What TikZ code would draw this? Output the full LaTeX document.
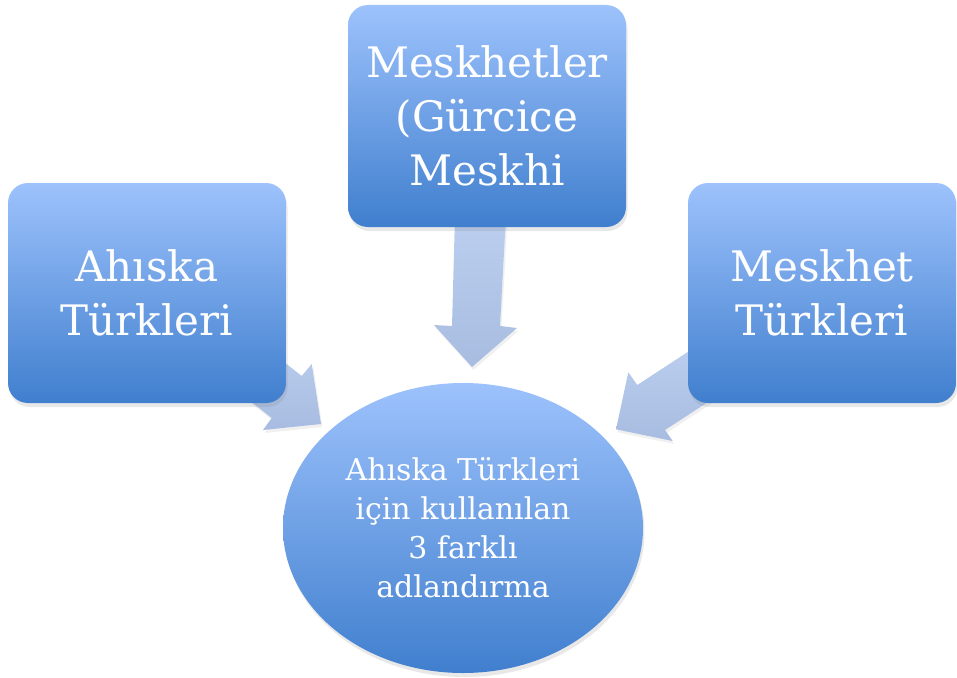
\documentclass[tikz,border=0pt]{standalone}
\usepackage{fontspec}
\setmainfont{DejaVu Serif}
\usetikzlibrary{shadows}
\definecolor{boxtop}{RGB}{157,194,252}
\definecolor{boxbot}{RGB}{64,127,206}
\definecolor{arrtop}{RGB}{188,207,240}
\definecolor{arrbot}{RGB}{167,188,224}
\tikzset{
  blockbox/.style={rounded corners=20pt, top color=boxtop, bottom color=boxbot,
    draw=none, text=white, align=center, inner sep=0pt,
    drop shadow={opacity=0.18, shadow xshift=1.5pt, shadow yshift=-4pt},
    font=\fontsize{42}{54}\selectfont},
  hubellipse/.style={ellipse, top color=boxtop, bottom color=boxbot, draw=none,
    text=white, align=center, inner sep=0pt,
    drop shadow={opacity=0.18, shadow xshift=1.5pt, shadow yshift=-4pt},
    font=\fontsize{30}{39}\selectfont},
  blockarrow/.style={top color=arrtop, bottom color=arrbot, draw=none,
    drop shadow={opacity=0.12, shadow xshift=1.5pt, shadow yshift=-3pt}}
}
\usetikzlibrary{shapes.geometric}
\begin{document}
\begin{tikzpicture}[x=1pt,y=-1pt]
\useasboundingbox (0,0) rectangle (957,677);
% block arrows (drawn first, behind the boxes)
\path[blockarrow] (455,215) -- (506,215) -- (500,326) -- (517,328) -- (472,367) -- (434,325) -- (452,326) -- cycle;
\path[blockarrow] (250,335) -- (301.7,376) -- (311.7,364) -- (321,424) -- (263,430) -- (271.7,418) -- (220,377) -- cycle;
\path[blockarrow] (637.3,385) -- (706,340) -- (734,385) -- (665,430) -- (672.7,441) -- (616,429.3) -- (628.3,372.3) -- cycle;
% boxes
\node[blockbox, minimum width=278pt, minimum height=220pt] (left) at (147,293) {Ahıska\\Türkleri};
\node[blockbox, minimum width=278pt, minimum height=222pt] (top) at (487,116) {Meskhetler\\(Gürcice\\Meskhi};
\node[blockbox, minimum width=268pt, minimum height=220pt] (right) at (822,293) {Meskhet\\Türkleri};
\node[hubellipse, minimum width=360pt, minimum height=290pt] (hub) at (463,528) {Ahıska Türkleri\\için kullanılan\\3 farklı\\adlandırma};
\end{tikzpicture}
\end{document}
